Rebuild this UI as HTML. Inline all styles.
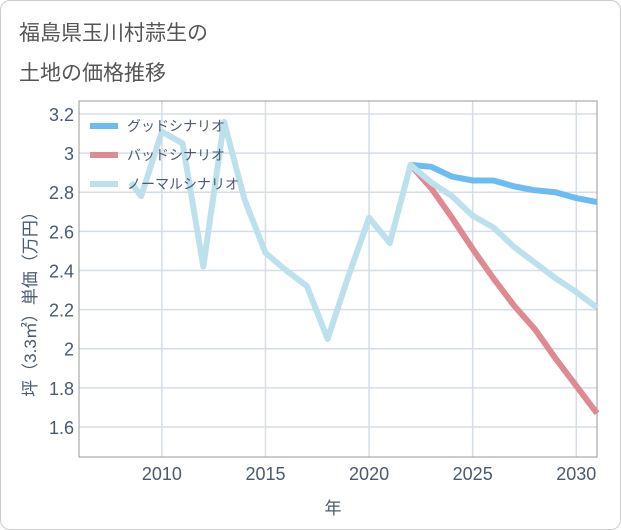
<!DOCTYPE html>
<html><head><meta charset="utf-8"><style>
body{margin:0;background:#fff;}
#wrap{position:relative;width:619px;height:528px;border:1px solid #ccc;border-radius:10px;overflow:hidden;font-family:"Liberation Sans","Noto Sans CJK JP",sans-serif;}
.title{position:absolute;left:18px;font-size:21px;color:#555;}
</style></head><body>
<div id="wrap">
<div class="title" style="top:16px">福島県玉川村蒜生の</div>
<div class="title" style="top:56px">土地の価格推移</div>
<svg id="chart" width="621" height="530" style="position:absolute;left:-1px;top:-1px"></svg>
</div>
<script>
const years=[2008.5,2009,2010,2011,2012,2013,2014,2015,2016,2017,2018,2019,2020,2021,2022];
const hist=[2.85,2.78,3.11,3.05,2.42,3.16,2.76,2.49,2.40,2.32,2.05,2.37,2.67,2.54,2.94];
const fYears=[2022,2023,2024,2025,2026,2027,2028,2029,2030,2031];
const good=[2.94,2.93,2.88,2.86,2.86,2.83,2.81,2.80,2.77,2.75];
const bad=[2.94,2.82,2.67,2.51,2.36,2.22,2.10,1.95,1.81,1.67];
const normal=[2.94,2.85,2.78,2.68,2.62,2.52,2.44,2.36,2.29,2.21];
const yTicks=[1.6,1.8,2,2.2,2.4,2.6,2.8,3,3.2];
const xTicks=[2010,2015,2020,2025,2030];
const NS='http://www.w3.org/2000/svg';
const svg=document.getElementById('chart');
const L=79,R=597,T=101,B=457;
const X=v=>L+(v-2006)*(R-L)/25;
const Y=v=>114+(3.2-v)*195.6;
function mk(t,a,p){const e=document.createElementNS(NS,t);for(const k in a)e.setAttribute(k,a[k]);(p||svg).appendChild(e);return e;}
const gg=mk('g',{});


yTicks.forEach(v=>{
 const l=mk('line',{x1:L,x2:R,y1:Y(v),y2:Y(v),stroke:'#d5dde6','stroke-width':1.5},gg);
 
 
 const t=mk('text',{x:74,y:Y(v)+7,'text-anchor':'end','font-size':18,fill:'#4a5a70'});
 t.textContent=String(v);
 
 
});
xTicks.forEach(v=>{
 const l=mk('line',{x1:X(v),x2:X(v),y1:T,y2:B,stroke:'#d5dde6','stroke-width':1.5},gg);
 
 
 const t=mk('text',{x:X(v),y:480,'text-anchor':'middle','font-size':18,fill:'#4a5a70'});
 t.textContent=String(v);
 
 
});
const fr=mk('rect',{x:L,y:T,width:R-L,height:B-T,fill:'none',stroke:'#999','stroke-width':1});


function line(xs,ys,c,name){
 const p=mk('polyline',{points:xs.map((x,i)=>X(x)+','+Y(ys[i])).join(' '),fill:'none',stroke:c,'stroke-width':6,'stroke-linejoin':'round'});
 
 
}
line(fYears,good,'#6bbcf2','good-scenario-line');
line(fYears,bad,'#df8a92','bad-scenario-line');
line(years.concat(fYears.slice(1)),hist.concat(normal.slice(1)),'#bde1ec','normal-scenario-line');
const leg=[['グッドシナリオ','#6bbcf2'],['バッドシナリオ','#df8a92'],['ノーマルシナリオ','#bde1ec']];
leg.forEach((e,i)=>{
 const y=126+i*29;
 const s=mk('line',{x1:90,x2:118,y1:y,y2:y,stroke:e[1],'stroke-width':6});
 
 
 const t=mk('text',{x:127,y:y+5,'font-size':14,fill:'#4a5a70'});
 t.textContent=e[0];
 
 
});
const yt=mk('text',{x:0,y:0,'font-size':17,fill:'#4a5a70','text-anchor':'middle',transform:'translate(36,300) rotate(-90)'});
yt.textContent='坪（3.3㎡）単価（万円）';


const xt=mk('text',{x:333,y:514,'font-size':17,fill:'#4a5a70','text-anchor':'middle'});
xt.textContent='年';


</script>
</body></html>
